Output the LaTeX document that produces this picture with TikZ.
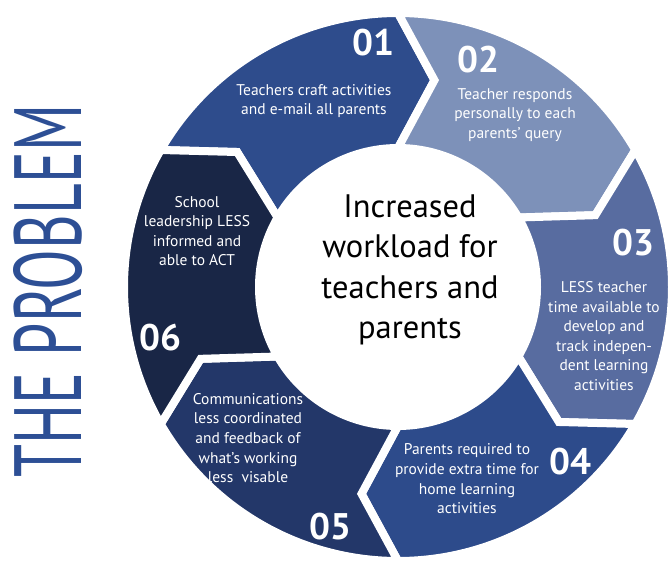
\documentclass[tikz,border=0pt]{standalone}
\usepackage{fontspec}
\setmainfont{PT Sans}
\usepackage{graphicx}
\definecolor{cA}{HTML}{2E4C8C}
\definecolor{cB}{HTML}{7D91B9}
\definecolor{cC}{HTML}{586CA0}
\definecolor{cD}{HTML}{2D4B8B}
\definecolor{cE}{HTML}{233769}
\definecolor{cF}{HTML}{192646}
\definecolor{titleblue}{HTML}{2D4F95}
\tikzset{
  segtxt/.style={text=white, align=center, inner sep=0pt, font=\fontsize{15.5}{19.6}\selectfont},
  numtxt/.style={text=white, inner sep=0pt, font=\bfseries\fontsize{37}{37}\selectfont},
  segshape/.style={draw=white, line width=8pt, line join=miter}
}
\newcommand{\segpath}[3]{%
  \path[segshape, fill=#3] (#1:274pt) arc[start angle=#1, end angle=#2, radius=274pt]
    -- (#2-10:210pt) -- (#2:139pt) arc[start angle=#2, end angle=#1, radius=139pt]
    -- (#1-10:210pt) -- cycle;}
\begin{document}
\begin{tikzpicture}[x=1pt,y=1pt]
\useasboundingbox (0,0) rectangle (669,-561);
\begin{scope}[shift={(398,-287)}]
  \segpath{150}{90}{cA}
  \segpath{90}{30}{cB}
  \segpath{30}{-30}{cC}
  \segpath{-30}{-90}{cD}
  \segpath{-90}{-150}{cE}
  \segpath{-150}{-210}{cF}
\end{scope}
\node[segtxt] (t1) at (314,-101) {Teachers craft activities\\and e-mail all parents};
\node[numtxt] (n1) at (373,-43) {01};
\node[segtxt] (t2) at (515,-115) {Teacher responds\\personally to each\\parents’ query};
\node[numtxt] (n2) at (478,-60) {02};
\node[segtxt] (t3) at (604,-336) {LESS teacher\\time available to\\develop and\\track indepen-\\dent learning\\activities};
\node[numtxt] (n3) at (633,-243) {03};
\node[segtxt] (t4) at (467,-479) {Parents required to\\provide extra time for\\home learning\\activities};
\node[numtxt] (n4) at (570,-462) {04};
\node[segtxt] (t5) at (248,-438) {Communications\\less coordinated\\and feedback of\\what’s working\\less\ \ visable};
\node[numtxt] (n5) at (330,-527) {05};
\node[segtxt] (t6) at (197,-231) {School\\leadership LESS\\informed and\\able to ACT};
\node[numtxt] (n6) at (160,-338) {06};
\node[align=center, inner sep=0pt, font=\fontsize{32.5}{40.5}\selectfont] (ctr) at (410,-270) {Increased\\workload for\\teachers and\\parents};
\node[rotate=90, inner sep=0pt, text=titleblue] (title) at (48,-291) {\resizebox{372pt}{68pt}{THE PROBLEM}};
\end{tikzpicture}
\end{document}
